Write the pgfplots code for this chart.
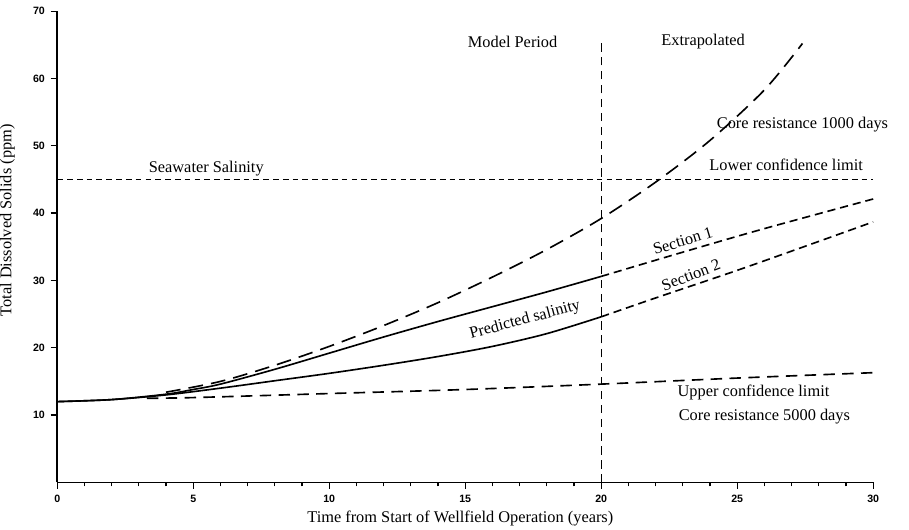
\documentclass[border=0pt]{standalone}
\usepackage{fontspec}
\setmainfont{Liberation Serif}
\newfontfamily\tickfont{Liberation Sans}
\usepackage{pgfplots}
\pgfplotsset{compat=1.18}

\begin{document}
\begin{tikzpicture}
\begin{axis}[
  scale only axis,width=17.54cm,height=10.13cm,
  xmin=0,xmax=30,ymin=0,ymax=70,
  axis lines=left,axis line style={-,line width=1pt},
  xtick={0,5,...,30},ytick={10,20,...,70},
  minor x tick num=4,
  tick align=outside,major tick length=4pt,minor tick length=2.5pt,
  tick style={black,line width=0.8pt},
  /pgf/number format/assume math mode=true,
  tick label style={font=\tickfont\bfseries\fontsize{6.5}{7}\selectfont},
  xlabel={Time from Start of Wellfield Operation (years)},
  ylabel={Total Dissolved Solids (ppm)},
  label style={font=\fontsize{10}{12}\selectfont},
  xlabel style={at={(axis description cs:0.494,-0.076)},anchor=center},
  ylabel style={at={(axis description cs:-0.061,0.556)},anchor=center},
  clip=false
]
\coordinate (sw) at (rel axis cs:0,0);
\coordinate (ne) at (rel axis cs:1,1);

% seawater salinity
\addplot[black,line width=0.6pt,dash pattern=on 3.5pt off 2.5pt] coordinates {(0,45)(30,45)};
% end of model period
\addplot[black,line width=0.7pt,dash pattern=on 5pt off 3.5pt] coordinates {(20,0)(20,65.8)};

% predicted salinity, section 1 and 2
\addplot[black,line width=1pt,smooth] coordinates {
  (0,12)(2,12.3)(4,13.1)(5,13.8)(6,14.6)(8,16.8)(10,19.2)(12,21.6)
  (14,23.9)(16,26.1)(18,28.3)(20,30.6)};
\addplot[black,line width=1pt,smooth] coordinates {
  (0,12)(2,12.3)(4,13.0)(6,14.0)(8,15.1)(10,16.2)(12,17.4)
  (14,18.7)(16,20.2)(18,22.1)(20,24.6)};
\addplot[black,line width=1pt,smooth,dash pattern=on 5pt off 3pt] coordinates {
  (20,30.6)(23,34.2)(26,37.7)(30,42.1)};
\addplot[black,line width=1pt,smooth,dash pattern=on 5pt off 3pt] coordinates {
  (20,24.6)(22,27.4)(25,31.5)(28,35.8)(30,38.7)};

% core resistance 1000 days / lower confidence limit
\addplot[black,line width=1pt,smooth,dash pattern=on 9pt off 5pt] coordinates {
  (4,13.4)(6,15.0)(8,17.4)(10,20.2)(12,23.3)(14,26.7)(16,30.5)
  (18,34.6)(20,39.2)(22,44.6)(24,50.8)(26,58.3)(27.4,65.2)};
% core resistance 5000 days / upper confidence limit
\addplot[black,line width=1pt,smooth,dash pattern=on 7pt off 4.5pt] coordinates {
  (3.3,12.5)(5,12.6)(10,13.2)(15,13.8)(20,14.6)(25,15.5)(30,16.3)};

\node at (axis cs:5.48,46.6) {Seawater Salinity};
\node[anchor=east] at (axis cs:18.6,65.5) {Model Period};
\node[anchor=west] at (axis cs:22.0,65.5) {Extrapolated};
\node at (axis cs:27.4,53.1) {Core resistance 1000 days};
\node at (axis cs:26.8,47.2) {Lower confidence limit};
\node[rotate=17] at (axis cs:23.0,35.9) {Section 1};
\node[rotate=21] at (axis cs:23.3,30.8) {Section 2};
\node[rotate=15] at (axis cs:17.2,24.1) {Predicted salinity};
\node at (axis cs:25.6,13.4) {Upper confidence limit};
\node at (axis cs:26.0,9.8) {Core resistance 5000 days};
\end{axis}
\pgfresetboundingbox
\path (sw) ++(-1.23cm,-1.01cm) coordinate (bl);
\path (ne) ++(0.77cm,0.24cm) coordinate (tr);
\path[use as bounding box] (bl) rectangle (tr);
\end{tikzpicture}
\end{document}
